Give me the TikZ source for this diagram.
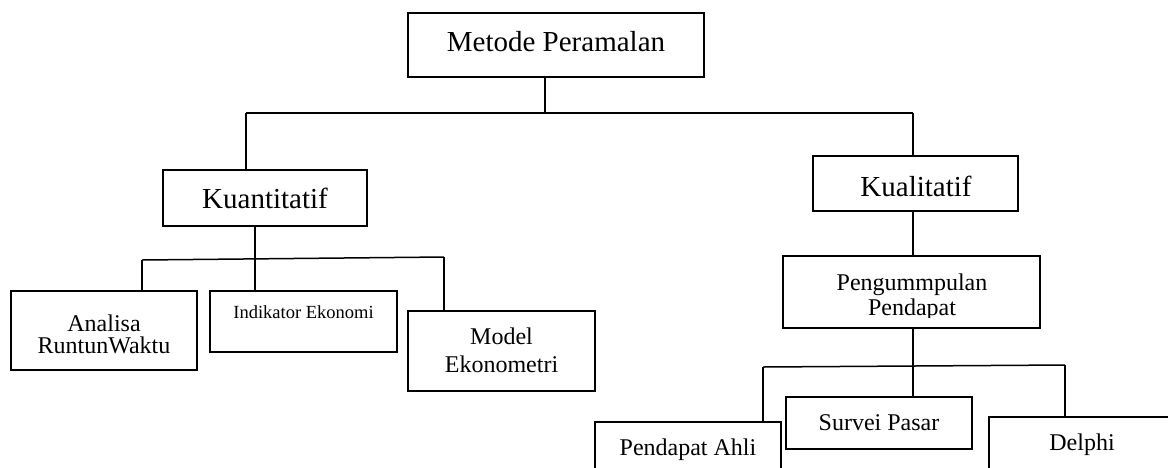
\documentclass[tikz,border=0pt]{standalone}
\usepackage{fontspec}
\setmainfont{Liberation Serif}
\newcommand{\fsz}[1]{\fontsize{#1}{#1}\selectfont}
\begin{document}
\begin{tikzpicture}[x=1pt,y=-1pt,
  box/.style={draw, line width=1.7pt, inner sep=0pt, fill=none},
  lbl/.style={anchor=base, inner sep=0pt},
  big/.style={lbl, font=\fsz{29}},
  mid/.style={lbl, font=\fsz{24}},
  tiny/.style={lbl, font=\fsz{18.5}},
  wire/.style={line width=1.5pt}]
\clip (0,0) rectangle (1168,467);
\fill[white] (0,0) rectangle (1168,467);

% boxes
\node[box, minimum width=296pt, minimum height=64pt] (metode) at (556,45) {};
\node[box, minimum width=204pt, minimum height=56pt] (kuan) at (265,198) {};
\node[box, minimum width=205pt, minimum height=55pt] (kual) at (915.5,183.5) {};
\node[box, minimum width=257pt, minimum height=72pt] (peng) at (911.5,292) {};
\node[box, minimum width=186pt, minimum height=79pt] (analisa) at (104,330.5) {};
\node[box, minimum width=187pt, minimum height=61pt] (indik) at (303.5,321.5) {};
\node[box, minimum width=187pt, minimum height=80pt] (model) at (501.5,351) {};
\node[box, minimum width=186pt, minimum height=80pt] (ahli) at (688,462) {};
\node[box, minimum width=186pt, minimum height=52pt] (survei) at (879,423) {};
\node[box, minimum width=186pt, minimum height=80pt] (delphi) at (1082,457) {};

% labels
\node[big] (metodeT) at (556,51) {Metode Peramalan};
\node[big] (kuanT) at (265,208) {Kuantitatif};
\node[big] (kualT) at (916,196) {Kualitatif};
\begin{scope}
  \clip (783,256) rectangle (1040,317);
  \node[mid] (pengT1) at (912,290) {Pengummpulan};
  \node[mid] (pengT2) at (912,315) {Pendapat};
\end{scope}
\node[mid] (analisaT1) at (104,331) {Analisa};
\node[mid] (analisaT2) at (104,353) {RuntunWaktu};
\node[tiny] (indikT) at (303.5,318) {Indikator Ekonomi};
\node[mid] (modelT1) at (501.5,344) {Model};
\node[mid] (modelT2) at (501.5,372) {Ekonometri};
\node[mid] (ahliT) at (688,455) {Pendapat Ahli};
\node[mid] (surveiT) at (879,430) {Survei Pasar};
\node[mid] (delphiT) at (1082,450) {Delphi};

% junction points
\coordinate (tm) at (545,113);
\coordinate (tl) at (246,113);
\coordinate (tr) at (913,113);
\coordinate (ll) at (142,260);
\coordinate (lr) at (444,257);
\coordinate (lm) at (255,259);
\coordinate (rl) at (763,367);
\coordinate (rr) at (1065,365);
\coordinate (rm) at (913,366);

% connectors
\draw[wire] (tm |- metode.south) -- (tm);
\draw[wire] (tl) -- (tr);
\draw[wire] (tl) -- (tl |- kuan.north);
\draw[wire] (tr) -- (tr |- kual.north);
\draw[wire] (kual.south -| tr) -- (peng.north -| tr);
\draw[wire] (kuan.south -| lm) -- (indik.north -| lm);
\draw[wire] (ll) -- (lr);
\draw[wire] (ll) -- (ll |- analisa.north);
\draw[wire] (lr) -- (lr |- model.north);
\draw[wire] (peng.south -| rm) -- (survei.north -| rm);
\draw[wire] (rl) -- (rr);
\draw[wire] (rl) -- (rl |- ahli.north);
\draw[wire] (rr) -- (rr |- delphi.north);
\end{tikzpicture}
\end{document}
